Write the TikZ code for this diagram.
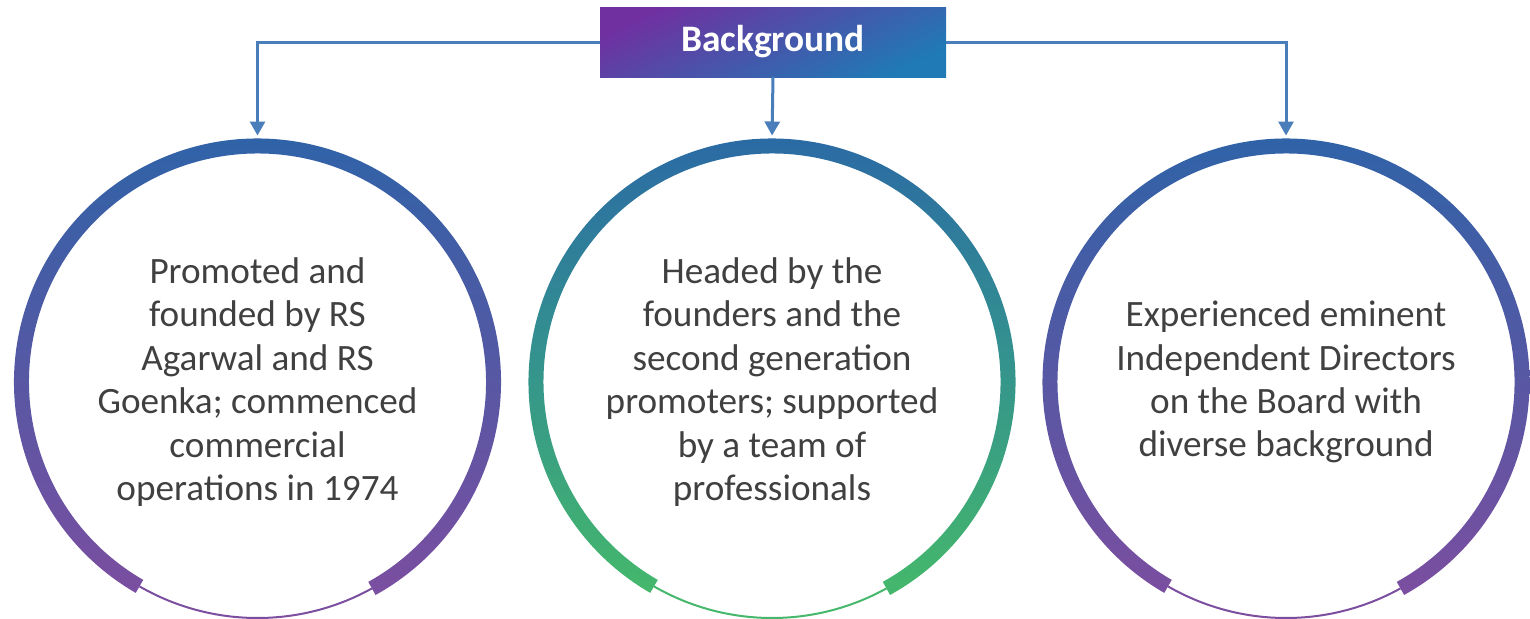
\documentclass[tikz,border=0pt]{standalone}
\usepackage{fontspec}
\setmainfont{Carlito}
\usetikzlibrary{arrows.meta, positioning, shapes}

\definecolor{ringblue}{HTML}{2A64A8}
\definecolor{ringpurple}{HTML}{7B4EA0}
\definecolor{ringteal}{HTML}{33918F}
\definecolor{ringgreen}{HTML}{45B86B}
\definecolor{boxpurple}{HTML}{7030A0}
\definecolor{boxblue}{HTML}{1F7AB5}
\definecolor{connblue}{HTML}{4A7EBB}
\definecolor{txtgray}{HTML}{404040}

% ring round a circle node: #1 node, #2 top, #3 middle, #4 bottom colour
\newcommand{\bgring}[4]{%
  \shade [top color=#2, bottom color=#4, middle color=#3]
    ([shift={(-61:243.5)}]#1.center) arc [start angle=-61, end angle=240, radius=243.5]
    -- ([shift={(240:228.5)}]#1.center) arc [start angle=240, end angle=-61, radius=228.5] -- cycle;
  \draw [#4, line width=1pt] ([shift={(240:236)}]#1.center) arc [start angle=240, end angle=299, radius=236];
}

\begin{document}
\begin{tikzpicture}[x=0.5pt, y=0.5pt,
  title/.style={minimum width=173pt, minimum height=35pt, inner sep=0pt, outer sep=0pt,
    text=white, font=\fontsize{18.7}{22}\selectfont\bfseries,
    top color=boxpurple, bottom color=boxblue, shading angle=25},
  bubble/.style={circle, minimum size=243.5pt, inner sep=0pt, outer sep=0pt,
    align=center, text=txtgray, font=\fontsize{18.6}{21.7}\selectfont},
  conn/.style={draw=connblue, line width=1.5pt, -{Triangle[width=7.5pt, length=7pt]}, shorten >=1.5pt}]

\useasboundingbox (0,0) rectangle (1530,618);

\node [title ] (bg) at (773,576) {Background};

\node [bubble] (c1) at (257.5,236) {Promoted and\\founded by RS\\Agarwal and RS\\Goenka; commenced\\commercial\\operations in 1974};
\node [bubble] (c2) at (772,236)   {Headed by the\\founders and the\\second generation\\promoters; supported\\by a team of\\professionals};
\node [bubble] (c3) at (1286,236)  {Experienced eminent\\Independent Directors\\on the Board with\\diverse background};

\bgring{c1}{ringblue}{ringblue!50!ringpurple}{ringpurple}
\bgring{c2}{ringblue}{ringteal}{ringgreen}
\bgring{c3}{ringblue}{ringblue!50!ringpurple}{ringpurple}

\path [conn] (bg.west) -| (c1.north);
\path [conn] (bg.south) -- (c2.north);
\path [conn] (bg.east) -| (c3.north);

\end{tikzpicture}
\end{document}
